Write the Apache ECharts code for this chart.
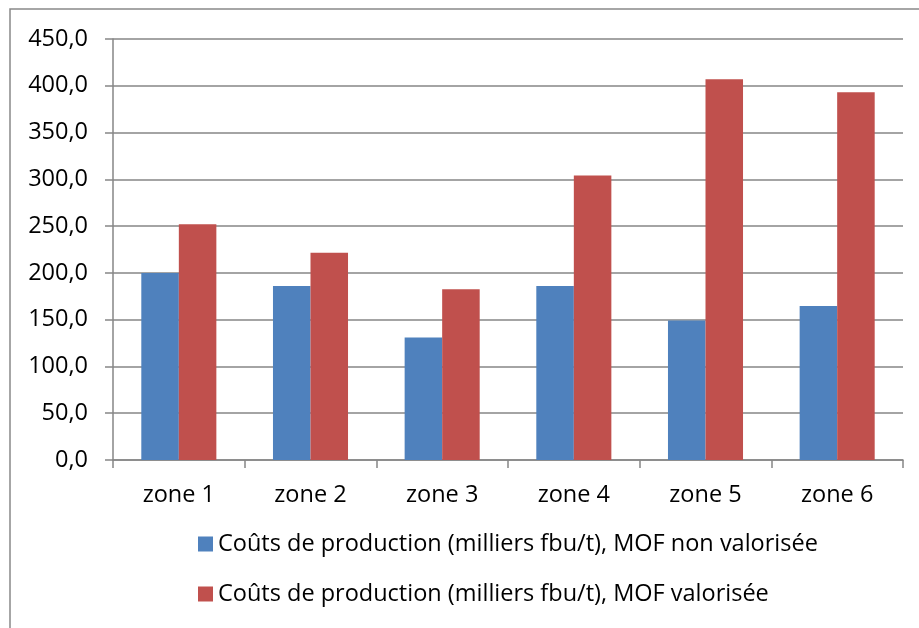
<!DOCTYPE html>
<html><head><meta charset="utf-8">
<script src="https://cdn.jsdelivr.net/npm/echarts@6/dist/echarts.min.js"></script>
<style>html,body{margin:0;padding:0;background:#fff}#c{width:919px;height:628px}</style>
</head><body><div id="c"></div>
<script>
const categories = ['zone 1','zone 2','zone 3','zone 4','zone 5','zone 6'];
const seriesNames = ['Coûts de production (milliers fbu/t), MOF non valorisée','Coûts de production (milliers fbu/t), MOF valorisée'];
const nonValorisee = [200, 186, 131, 186, 149, 164.5];
const valorisee = [252, 221.5, 182.5, 304, 407, 393];
const yMin = 0, yMax = 450, yStep = 50;

const font = 'Open Sans';
const fs = 23.5;
const chart = echarts.init(document.getElementById('c'), null, {renderer:'canvas'});
chart.setOption({
  animation:false,
  backgroundColor:'#fff',
  textStyle:{fontFamily:font},
  graphic:[{type:'rect',shape:{x:10,y:9,width:920,height:630},style:{fill:'none',stroke:'#898989',lineWidth:1.5},z:-1}],
  grid:{left:113,right:16,top:39,bottom:168,containLabel:false},
  legend:{orient:'vertical',left:193,top:527,itemWidth:15,itemHeight:15,itemGap:26,icon:'rect',
    textStyle:{fontFamily:font,fontSize:fs,color:'#000',lineHeight:24},
    data:seriesNames},
  xAxis:{type:'category',data:categories,boundaryGap:true,
    axisLine:{lineStyle:{color:'#868686',width:1.5}},
    axisTick:{show:true,length:8,lineStyle:{color:'#868686',width:1.5}},
    axisLabel:{color:'#000',fontFamily:font,fontSize:fs,margin:23}},
  yAxis:{type:'value',min:yMin,max:yMax,interval:yStep,
    axisLine:{show:true,lineStyle:{color:'#868686',width:1.5}},
    axisTick:{show:true,length:8,lineStyle:{color:'#868686',width:1.5}},
    splitLine:{lineStyle:{color:'#868686',width:1.5}},
    axisLabel:{color:'#000',fontFamily:font,fontSize:fs,margin:25,formatter:v=>v.toFixed(1).replace('.',',')}},
  series:[
    {name:seriesNames[0],type:'bar',data:nonValorisee,barGap:'0%',barCategoryGap:'43%',itemStyle:{color:'#4F81BD'}},
    {name:seriesNames[1],type:'bar',data:valorisee,barGap:'0%',barCategoryGap:'43%',itemStyle:{color:'#C0504D'}}
  ]
});
</script></body></html>
